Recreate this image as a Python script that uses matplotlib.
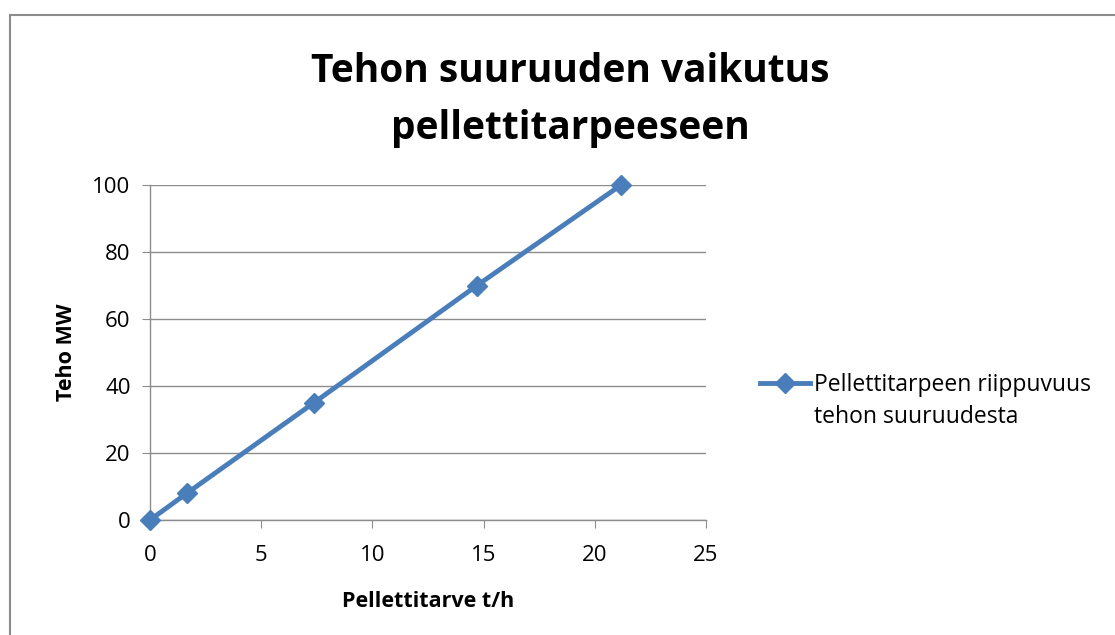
import matplotlib
matplotlib.use("Agg")
import matplotlib.pyplot as plt
from matplotlib.patches import Rectangle

# data
pelletti_th = [0, 1.66, 7.37, 14.7, 21.18]
teho_mw = [0, 8, 35, 70, 100]

x_ticks = [0, 5, 10, 15, 20, 25]
y_ticks = [0, 20, 40, 60, 80, 100]

plt.rcParams['font.family'] = ['Open Sans', 'DejaVu Sans']

W, H = 1115, 635
fig = plt.figure(figsize=(W / 100, H / 100), dpi=100)

# outer chart border (cut off on right and bottom like the reference)
fig.patches.append(Rectangle((10 / W, -0.2), 1.2, 1.2 - 15 / H, transform=fig.transFigure,
                             fill=False, edgecolor='#8c8c8c', linewidth=1.5))

ax = fig.add_axes([150 / W, 1 - 520 / H, (706 - 150) / W, (520 - 185) / H])
line_col = '#4a7ebb'
ax.plot(pelletti_th, teho_mw, color=line_col, linewidth=3.5, marker='D', markersize=10,
        label='Pellettitarpeen riippuvuus', clip_on=False, zorder=3)

ax.set_xlim(0, 25)
ax.set_ylim(0, 100)
ax.set_xticks(x_ticks)
ax.set_yticks(y_ticks)
ax.grid(axis='y', color='#8c8c8c', linewidth=1)
ax.set_axisbelow(True)
for s in ['top', 'right']:
    ax.spines[s].set_visible(False)
for s in ['left', 'bottom']:
    ax.spines[s].set_color('#8c8c8c')
    ax.spines[s].set_linewidth(1)
ax.tick_params(axis='both', colors='#8c8c8c', labelcolor='black', labelsize=16, length=6)
ax.tick_params(axis='x', pad=12)
ax.tick_params(axis='y', pad=8)

ax.set_xlabel('Pellettitarve t/h', fontsize=15.5, fontweight='bold', labelpad=18)
ax.set_ylabel('Teho MW', fontsize=15.5, fontweight='bold', labelpad=11)

fig.text(570 / W, 1 - 100 / H, 'Tehon suuruuden vaikutus\npellettitarpeeseen',
         ha='center', va='center', fontsize=28, fontweight='bold', linespacing=1.6)

# legend: handle lines up with the first text line, second line wraps below
leg = ax.legend(loc='center left', bbox_to_anchor=(1.06, 0.403), frameon=False, fontsize=16.5,
                handlelength=2.2, handletextpad=0.15)
fig.canvas.draw()
bb = leg.get_texts()[0].get_window_extent().transformed(fig.transFigure.inverted())
fig.text(bb.x0, bb.y0 - 32 / H + (bb.y1 - bb.y0) / 2, 'tehon suuruudesta',
         fontsize=16.5, ha='left', va='center')

fig.savefig('out.png', dpi=100)
